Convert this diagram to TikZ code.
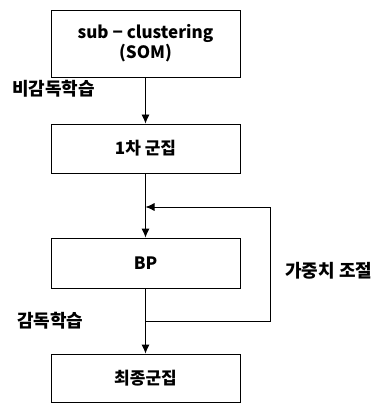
\documentclass[tikz,border=0pt]{standalone}
\usepackage{fontspec}
\setmainfont{Noto Sans CJK KR}
\usetikzlibrary{arrows.meta}
\begin{document}
\begin{tikzpicture}[x=1pt,y=-1pt,
  box/.style={draw, line width=0.8pt, minimum width=189pt, inner sep=0pt, align=center, font=\fontsize{17}{20}\selectfont\bfseries},
  lbl/.style={font=\fontsize{18}{20}\selectfont\bfseries, inner sep=0pt},
  conn/.style={line width=0.8pt},
  arr/.style={conn, -{Latex[length=9pt,width=8pt]}}]
\useasboundingbox (0,0) rectangle (378,403);
\node[box, minimum height=67pt] (som) at (145.5,43.5) {sub − clustering\\(SOM)};
\node[box, minimum height=49pt] (first) at (145.5,148.5) {1차 군집};
\node[box, minimum height=50pt] (bp) at (145.5,263) {BP};
\node[box, minimum height=48pt] (final) at (145.5,378) {최종군집};
\coordinate (j1) at (145.5,207);
\coordinate (j2) at (145.5,321);
\coordinate (r1) at (270,207);
\coordinate (r2) at (270,321);
\draw[arr] (som) -- (first);
\draw[arr] (first) -- (bp);
\draw[arr] (bp) -- (final);
\draw[conn] (j2) -- (r2) -- (r1);
\draw[arr] (r1) -- (j1);
\node[lbl, anchor=west] (l1) at (12,89) {비감독학습};
\node[lbl, anchor=west] (l2) at (17,321) {감독학습};
\node[lbl, anchor=west] (l3) at (285,271) {가중치 조절};
\end{tikzpicture}
\end{document}
